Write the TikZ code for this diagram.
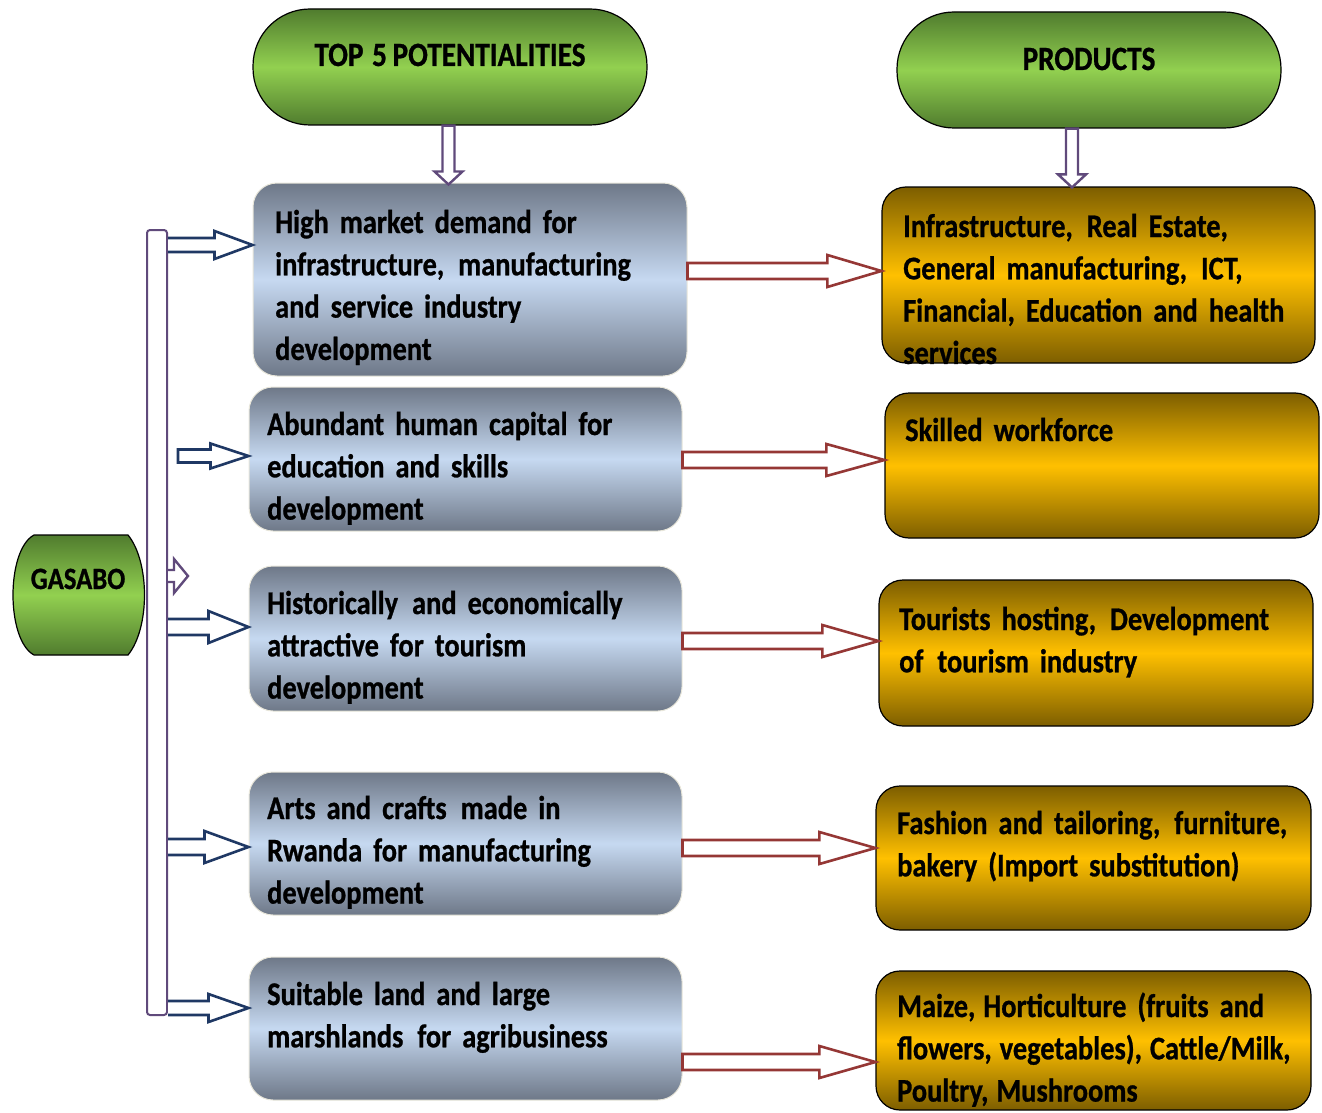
\documentclass[tikz,border=0pt]{standalone}
\usepackage{fontspec}
\newfontfamily\cfont[FakeStretch=0.86,WordSpace=0.85,FakeBold=0.8]{Carlito}
\usetikzlibrary{calc}
\newcommand\xs{\hspace{3pt}}
\definecolor{gdark}{RGB}{80,124,46}
\definecolor{glight}{RGB}{146,208,80}
\definecolor{bdark}{RGB}{110,120,136}
\definecolor{blight}{RGB}{198,217,241}
\definecolor{odark}{RGB}{125,94,0}
\definecolor{olight}{RGB}{255,192,0}
\definecolor{arrblue}{RGB}{31,56,100}
\definecolor{arrred}{RGB}{149,55,53}
\definecolor{arrpurple}{RGB}{96,74,123}
% horizontal block arrow: style, from, to, y, half shaft, half head, head length, end
\newcommand\hblock[8]{%
  \draw[#1] let \p1=(#2), \p2=(#3), \p3=(0,#4) in
    (\x1,{\y3+#5}) -- ({\x2-#7},{\y3+#5}) -- ({\x2-#7},{\y3+#6}) -- (\x2,\y3)
    -- ({\x2-#7},{\y3-#6}) -- ({\x2-#7},{\y3-#5}) -- (\x1,{\y3-#5}) #8;}
% vertical (downward) block arrow: style, from, to, x, half shaft, half head, head length
\newcommand\vblock[7]{%
  \draw[#1] let \p1=(#2), \p2=(#3), \p3=(#4,0) in
    ({\x3-#5},\y1) -- ({\x3-#5},{\y2+#7}) -- ({\x3-#6},{\y2+#7}) -- (\x3,\y2)
    -- ({\x3+#6},{\y2+#7}) -- ({\x3+#5},{\y2+#7}) -- ({\x3+#5},\y1) -- cycle;}
\begin{document}
\begin{tikzpicture}[x=1pt,y=-1pt,
  ov/.style={draw=black, line width=1.2pt, rounded corners=57pt,
    top color=gdark, bottom color=gdark, middle color=glight},
  gbox/.style={draw={rgb,255:red,232;green,230;blue,218}, line width=1pt, rounded corners=24pt,
    top color=bdark, bottom color=bdark, middle color=blight},
  obox/.style={draw=black, line width=1.2pt, rounded corners=24pt,
    top color=odark, bottom color=odark, middle color=olight},
  txt/.style={font=\cfont\bfseries\fontsize{33}{42.3}\selectfont, anchor=base west,
    align=left, text width=430pt, inner sep=0pt},
  hd/.style={font=\cfont\bfseries\fontsize{34}{40}\selectfont, anchor=base, inner sep=0pt},
  barst/.style={draw=arrpurple, line width=2pt, fill=white, rounded corners=3pt},
  ba/.style={draw=arrblue, line width=2.6pt, fill=white, line join=miter},
  ra/.style={draw=arrred, line width=2.6pt, fill=white, line join=miter},
  pa/.style={draw=arrpurple, line width=2.4pt, fill=white, line join=miter}]
\useasboundingbox (0,0) rectangle (1322,1113);

% header ovals
\node[ov, minimum width=394pt, minimum height=116pt] (top1) at (450,67) {};
\node[hd] (top1t) at (450,66) {TOP\xs\ 5 POTENTIALITIES};
\node[ov, minimum width=384pt, minimum height=116pt] (top2) at (1089,70) {};
\node[hd] (top2t) at (1089,70) {PRODUCTS};

% GASABO
\path[draw=black, line width=1.2pt, top color=gdark, bottom color=gdark, middle color=glight]
  (34,535) -- (128,535) .. controls (150,562) and (150,628) .. (128,655)
  -- (34,655) .. controls (6,640) and (6,550) .. (34,535) -- cycle;
\node[hd, font=\cfont\bfseries\fontsize{31}{36}\selectfont] (gas) at (78,589) {GASABO};

% vertical bar
\node[barst, minimum width=20pt, minimum height=785pt, inner sep=0pt] (bar) at (157,622.5) {};

% potentiality boxes
\node[gbox, minimum width=434pt, minimum height=193pt] (g1) at (470,279.5) {};
\node[gbox, minimum width=433pt, minimum height=144pt] (g2) at (465.5,459) {};
\node[gbox, minimum width=433pt, minimum height=145pt] (g3) at (465.5,638.5) {};
\node[gbox, minimum width=433pt, minimum height=143pt] (g4) at (465.5,843.5) {};
\node[gbox, minimum width=433pt, minimum height=143pt] (g5) at (465.5,1028.5) {};

\node[txt] (g1t) at (275,233) {High market demand for\\ infrastructure,\xs\ manufacturing\\ and service industry\\ development};
\node[txt] (g2t) at (267,435) {Abundant human capital for\\ education and skills\\ development};
\node[txt] (g3t) at (267,614) {Historically\xs\ and economically\\ attractive for tourism\\ development};
\node[txt] (g4t) at (267,819) {Arts and crafts\xs\ made in\\ Rwanda for manufacturing\\ development};
\node[txt] (g5t) at (267,1005) {Suitable land and large\\ marshlands\xs\ for agribusiness};

% product boxes
\node[obox, minimum width=433pt, minimum height=176pt] (p1) at (1098.5,275) {};
\node[obox, minimum width=434pt, minimum height=145pt] (p2) at (1102,465.5) {};
\node[obox, minimum width=434pt, minimum height=146pt] (p3) at (1096,653) {};
\node[obox, minimum width=435pt, minimum height=144pt] (p4) at (1093.5,858) {};
\node[obox, minimum width=435pt, minimum height=139pt] (p5) at (1093.5,1040.5) {};

\node[txt] (p1t) at (903,237) {Infrastructure,\xs\ Real Estate,\\ General manufacturing,\xs\ ICT,\\ Financial, Education and health\\ services};
\node[txt] (p2t) at (905,441) {Skilled workforce};
\node[txt] (p3t) at (899,630) {Tourists hosting,\xs\ Development\\ of\xs\ tourism industry};
\node[txt] (p4t) at (897,834) {Fashion and tailoring,\xs\ furniture,\\ bakery (Import substitution)};
\node[txt] (p5t) at (897,1017) {Maize,\hspace{-3pt} Horticulture (fruits and\\ flowers,\hspace{-3pt} vegetables),\hspace{-3pt} Cattle/Milk,\\ Poultry,\hspace{-3pt} Mushrooms};

% down arrows
\vblock{pa}{top1.south}{[yshift=-2pt]g1.north}{448.5}{6pt}{14pt}{13pt}
\vblock{pa}{top2.south}{[yshift=-1pt]p1.north}{1072}{6pt}{14pt}{13pt}

% blue arrows from bar
\hblock{ba}{bar.east}{g1.west}{245}{7pt}{14pt}{38pt}{}
\hblock{ba}{[xshift=10pt]bar.east}{g2.west}{456}{6.5pt}{12.5pt}{38pt}{-- cycle}
\hblock{ba}{bar.east}{g3.west}{627}{8pt}{16pt}{40pt}{}
\hblock{ba}{bar.east}{g4.west}{847}{8pt}{16pt}{44pt}{}
\hblock{ba}{bar.east}{g5.west}{1008}{7pt}{14pt}{40pt}{}

% small purple arrow
\coordinate (ptip) at (188,576);
\hblock{pa}{bar.east}{ptip}{576}{6pt}{17pt}{14pt}{}

% red arrows
\hblock{ra}{g1.east}{p1.west}{271}{8pt}{16pt}{54pt}{-- cycle}
\hblock{ra}{g2.east}{p2.west}{460}{8pt}{16pt}{58pt}{-- cycle}
\hblock{ra}{g3.east}{p3.west}{641}{8pt}{16pt}{56pt}{-- cycle}
\hblock{ra}{g4.east}{p4.west}{848}{8pt}{16pt}{56pt}{-- cycle}
\hblock{ra}{g5.east}{p5.west}{1062}{8pt}{16pt}{56pt}{-- cycle}
\end{tikzpicture}
\end{document}
